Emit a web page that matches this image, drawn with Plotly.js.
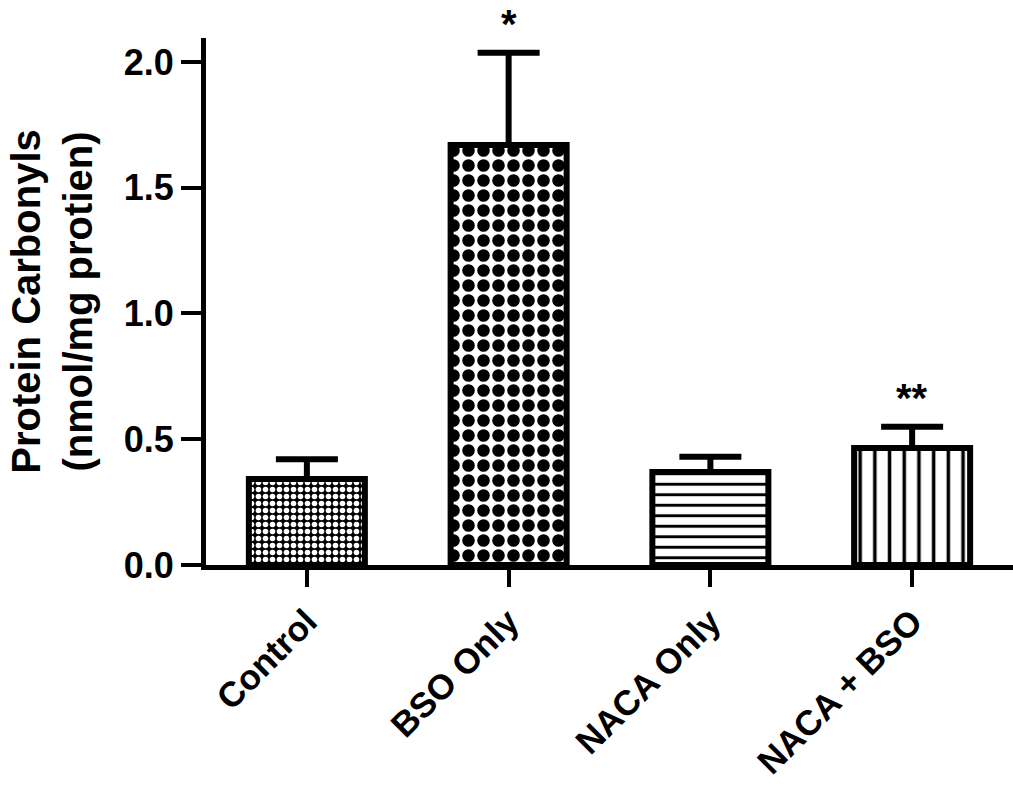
<!DOCTYPE html>
<html>
<head>
<meta charset="utf-8">
<script src="https://cdn.plot.ly/plotly-3.0.1.min.js"></script>
<style>html,body{margin:0;padding:0;background:#fff;}#chart{width:1013px;height:791px;}</style>
</head>
<body>
<div id="chart"></div>
<script>
// ---- data ----
const categories = ['Control', 'BSO Only', 'NACA Only', 'NACA + BSO'];
const means = [0.342, 1.67, 0.37, 0.465];
const sem = [0.078, 0.366, 0.06, 0.085];
const sigMarks = ['', '*', '', '**'];
const yTickVals = [0.0, 0.5, 1.0, 1.5, 2.0];
const yTitle = 'Protein Carbonyls<br>(nmol/mg protien)';

// ---- styles ----
const FONT = 'Arial, "Liberation Sans", Helvetica, sans-serif';
const patShapes = ['.', '.', '-', '|'];
const patSizes = [7, 15, 10.5, 14.7];
const patSolid = [0.5, 0.55, 0.28, 0.24];
const patBg = ['black', 'white', 'white', 'white'];
const patFg = ['white', 'black', 'black', 'black'];

const trace = {
  type: 'bar',
  x: categories,
  y: means,
  width: 0.575,
  marker: {
    color: 'white',
    line: {color: 'black', width: 6},
    pattern: {
      shape: patShapes,
      size: patSizes,
      solidity: patSolid,
      bgcolor: patBg,
      fgcolor: patFg,
      fgopacity: 1
    }
  },
  error_y: {
    type: 'data',
    symmetric: false,
    array: sem,
    arrayminus: sem.map(() => 0),
    color: 'black',
    thickness: 6,
    width: 31
  },
  hoverinfo: 'none'
};

const annotations = categories.map((c, i) => ({
  x: c,
  y: means[i] + sem[i],
  xref: 'x',
  yref: 'y',
  text: sigMarks[i],
  showarrow: false,
  yanchor: 'bottom',
  yshift: 5,
  font: {family: FONT, size: 40, color: 'black', weight: 'bold'}
})).filter(a => a.text !== '');

const layout = {
  width: 1013,
  height: 791,
  margin: {l: 206, r: 0, t: 38, b: 226, pad: 0},
  paper_bgcolor: 'white',
  plot_bgcolor: 'white',
  showlegend: false,
  font: {family: FONT, color: 'black'},
  xaxis: {
    type: 'category',
    range: [-0.5, 3.5],
    showgrid: false,
    zeroline: false,
    showline: true,
    linecolor: 'black',
    linewidth: 5,
    ticks: 'outside',
    ticklen: 17,
    tickwidth: 4,
    tickcolor: 'black',
    tickangle: -45,
    tickfont: {family: FONT, size: 35, color: 'black', weight: 'bold'},
    fixedrange: true
  },
  yaxis: {
    range: [0, 2.095],
    tickvals: yTickVals,
    tickformat: '.1f',
    showgrid: false,
    zeroline: false,
    showline: true,
    linecolor: 'black',
    linewidth: 5,
    ticks: 'outside',
    ticklen: 20,
    tickwidth: 4,
    tickcolor: 'black',
    tickfont: {family: FONT, size: 36, color: 'black', weight: 'bold'},
    title: {
      text: yTitle,
      font: {family: FONT, size: 40, color: 'black', weight: 'bold'},
      standoff: 20
    },
    fixedrange: true
  },
  annotations: annotations,
  bargap: 0.4
};

Plotly.newPlot('chart', [trace], layout, {displayModeBar: false, staticPlot: true});
</script>
</body>
</html>
